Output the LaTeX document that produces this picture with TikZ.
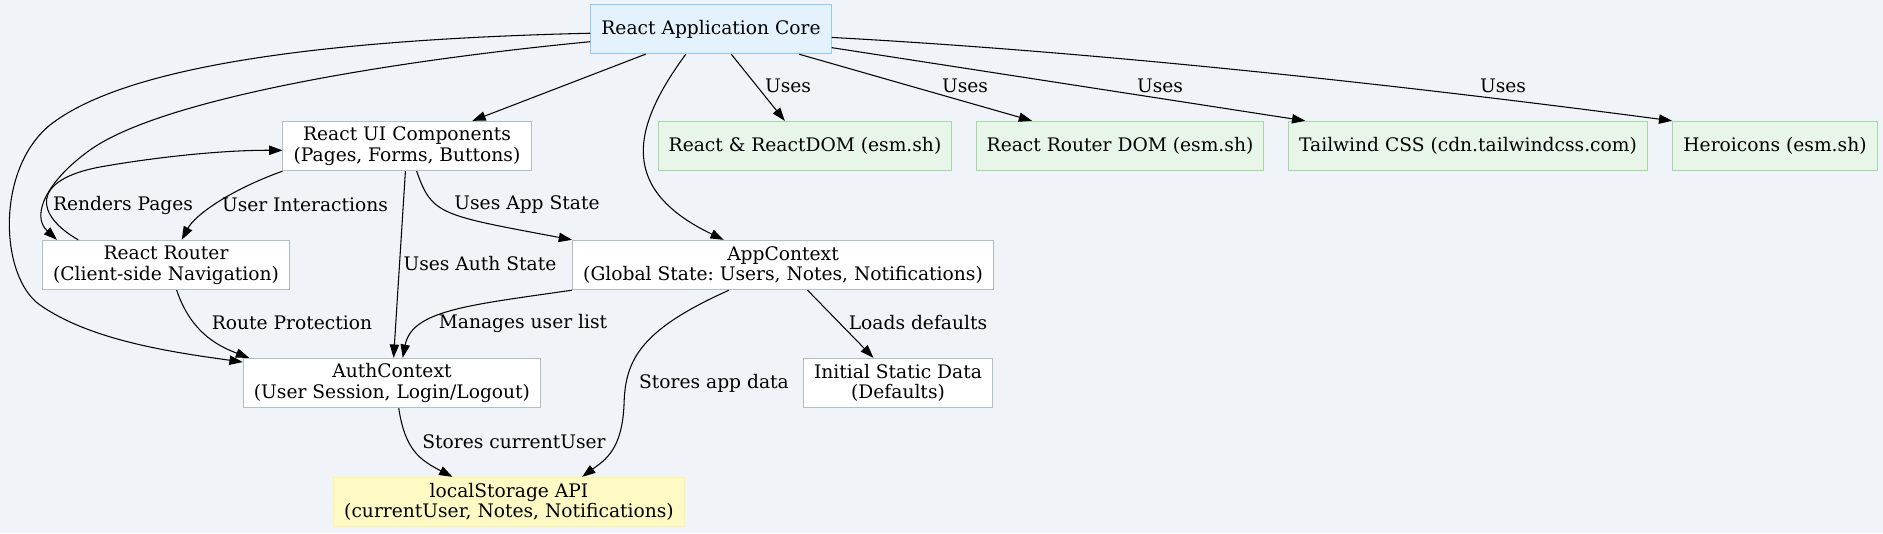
\documentclass[tikz,border=0pt]{standalone}
\usepackage{fontspec}
\setmainfont{DejaVu Serif}
\usetikzlibrary{arrows.meta}
\frenchspacing
\definecolor{PageBackground}{HTML}{F0F4F8}
\definecolor{CoreFill}{HTML}{E3F2FD}
\definecolor{CoreBorder}{HTML}{90CAF9}
\definecolor{LibFill}{HTML}{E8F5E9}
\definecolor{LibBorder}{HTML}{A5D6A7}
\definecolor{PartBorder}{HTML}{B0BEC5}
\definecolor{StoreFill}{HTML}{FFF9C4}
\definecolor{StoreBorder}{HTML}{FFF59D}

\tikzset{
    box/.style={draw, line width=0.75pt, font=\fontsize{14}{15.5}\selectfont,
        align=center, inner xsep=8pt, inner ysep=3pt, minimum height=37pt},
    corebox/.style={box, draw=CoreBorder, fill=CoreFill},
    libbox/.style={box, draw=LibBorder, fill=LibFill},
    partbox/.style={box, draw=PartBorder, fill=white},
    storebox/.style={box, draw=StoreBorder, fill=StoreFill},
    lbl/.style={font=\fontsize{14}{15.5}\selectfont, inner sep=0pt},
    link/.style={-{Triangle[length=10pt,width=7pt]}, line width=0.8pt},
}

\begin{document}
\begin{tikzpicture}[x=0.75pt, y=-0.75pt]

    \useasboundingbox (0, 0) rectangle (1883, 533);
    \fill[PageBackground] (0, 0) rectangle (1883, 533);

    % Nodos
    \node[corebox] (core) at (711, 29) {React Application Core};

    \node[partbox] (ui) at (407, 146) {React UI Components\\(Pages, Forms, Buttons)};
    \node[libbox] (rdom) at (805, 146) {React \& ReactDOM (esm.sh)};
    \node[libbox] (rrdom) at (1120, 146) {React Router DOM (esm.sh)};
    \node[libbox] (tw) at (1468, 146) {Tailwind CSS (cdn.tailwindcss.com)};
    \node[libbox] (hero) at (1775, 146) {Heroicons (esm.sh)};

    \node[partbox] (router) at (166, 265) {React Router\\(Client-side Navigation)};
    \node[partbox] (app) at (783, 265) {AppContext\\(Global State: Users, Notes, Notifications)};

    \node[partbox] (auth) at (392, 383) {AuthContext\\(User Session, Login/Logout)};
    \node[partbox] (init) at (898, 383) {Initial Static Data\\(Defaults)};

    \node[storebox] (ls) at (509, 502) {localStorage API\\(currentUser, Notes, Notifications)};

    % Desde el nucleo
    \draw[link] (core) -- (ui);
    \draw[link] (core.186) .. controls (380, 62) and (160, 100) .. (90, 150)
        .. controls (48, 180) and (30, 215) .. (router.167);
    \draw[link] (core.182) .. controls (300, 40) and (120, 70) .. (50, 125)
        .. controls (-5, 170) and (0, 277) .. (40, 305)
        .. controls (90, 340) and (170, 352) .. (auth.172);
    \draw[link] (core.225) .. controls (630, 130) and (620, 190) .. (app.157);
    \draw[link] (core) -- (rdom);
    \draw[link] (core) -- (rrdom);
    \draw[link] (core) -- (tw);
    \draw[link] (core.-4) .. controls (1100, 52) and (1400, 85) .. (hero.north west);

    % Componentes y enrutador
    \draw[link] (ui.south west) .. controls (230, 190) and (195, 215) .. (router.58);
    \draw[link] (router.164) .. controls (35, 215) and (30, 180) .. (100, 167)
        .. controls (150, 158) and (220, 150) .. (ui.182);
    \draw[link] (router.293) .. controls (190, 330) and (215, 345) .. (auth.170);
    \draw[link] (ui) -- (auth);
    \draw[link] (ui.291) .. controls (432, 215) and (440, 215) .. (app.north west);

    % Contextos y almacenamiento
    \draw[link] (app.south west) .. controls (470, 305) and (412, 310) .. (auth.67);
    \draw[link] (app.205) .. controls (640, 330) and (625, 360) .. (624, 405)
        .. controls (622, 450) and (605, 460) .. (ls.19);
    \draw[link] (app) -- (init);
    \draw[link] (auth.285) .. controls (405, 450) and (420, 460) .. (ls.156);

    % Etiquetas
    \node[lbl] (usesA) at (788, 86) {Uses};
    \node[lbl] (usesB) at (965, 86) {Uses};
    \node[lbl] (usesC) at (1160, 86) {Uses};
    \node[lbl] (usesD) at (1503, 86) {Uses};
    \node[lbl] (renders) at (123, 205) {Renders Pages};
    \node[lbl] (interact) at (305, 205) {User Interactions};
    \node[lbl] (appstate) at (527, 205) {Uses App State};
    \node[lbl] (authstate) at (480, 264) {Uses Auth State};
    \node[lbl] (protect) at (292, 323) {Route Protection};
    \node[lbl] (manages) at (523, 323) {Manages user list};
    \node[lbl] (defaults) at (918, 323) {Loads defaults};
    \node[lbl] (appdata) at (714, 383) {Stores app data};
    \node[lbl] (curuser) at (514, 442) {Stores currentUser};
\end{tikzpicture}
\end{document}
